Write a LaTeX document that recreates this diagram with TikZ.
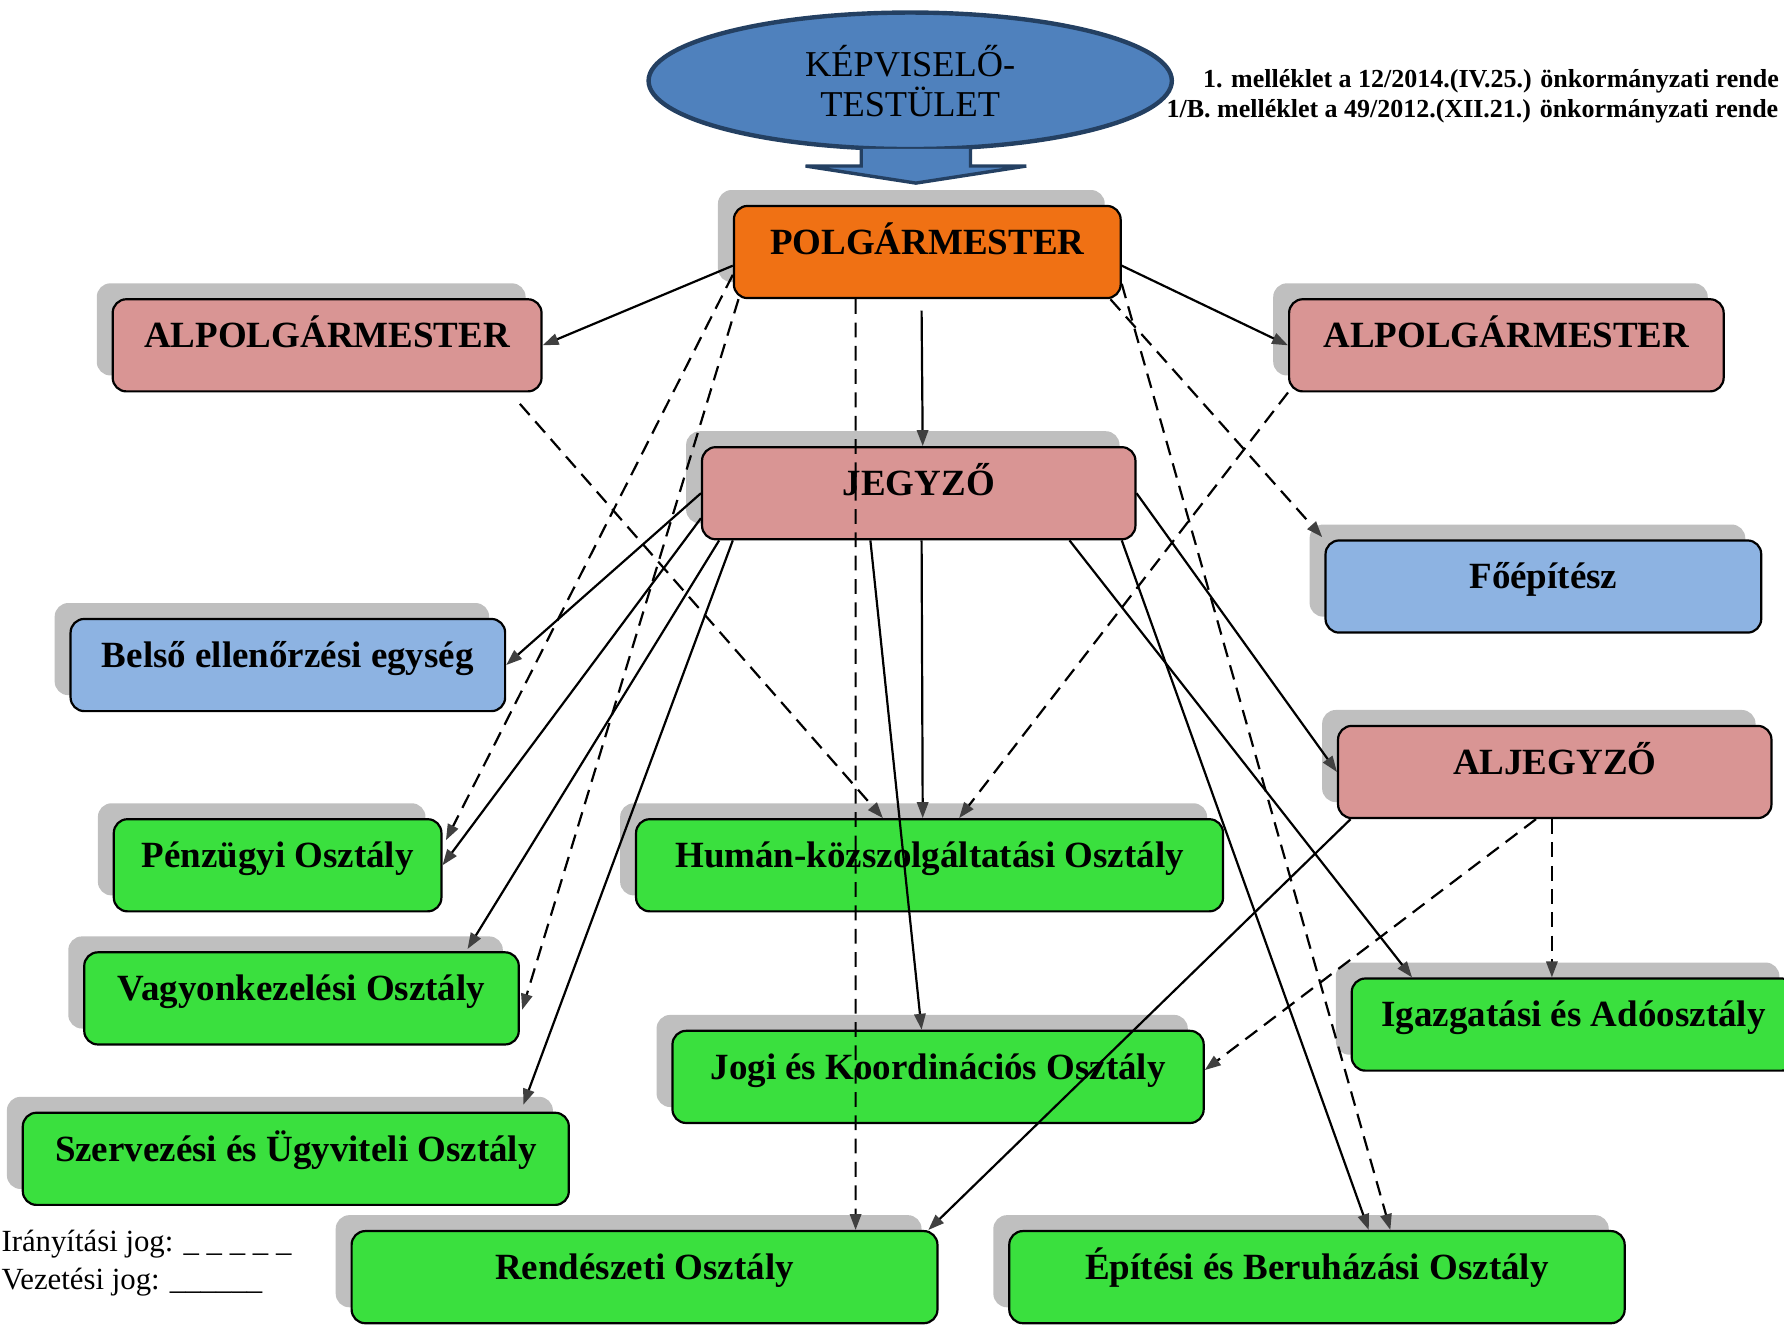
\documentclass[tikz,border=0pt]{standalone}
\usepackage{fontspec}
\setmainfont{Liberation Serif}
\usetikzlibrary{calc,shapes.geometric,shadows,arrows.meta}

\definecolor{ktblue}{RGB}{79,129,189}
\definecolor{ktdark}{RGB}{36,64,98}
\definecolor{polgorange}{RGB}{240,113,20}
\definecolor{vezpink}{RGB}{217,149,148}
\definecolor{belsoblue}{RGB}{141,179,226}
\definecolor{osztgreen}{RGB}{58,224,62}
\definecolor{tipgray}{RGB}{64,64,64}

\tikzset{
	box/.style={draw=black, line width=1.1pt, rounded corners=0.24cm, inner sep=0pt,
		minimum height=1.62cm, text height=0.44cm, text depth=0.36cm,
		font=\fontsize{18.5}{22}\selectfont\bfseries,
		drop shadow={shadow xshift=-0.28cm, shadow yshift=0.28cm, fill=black!25, opacity=1}},
	lead/.style={line width=1.1pt, -{Triangle[length=0.28cm, width=0.2cm, color=tipgray]}},
	irany/.style={lead, dash pattern=on 0.26cm off 0.15cm},
	note/.style={anchor=base west, inner sep=0pt},
}

\begin{document}
\begin{tikzpicture}[x=0.02cm, y=-0.02cm]
		%%%%% START %%%%%
		\useasboundingbox (0,0) rectangle (1568,1164);
		
		\node[note, font=\fontsize{13}{15}\selectfont\bfseries] (mell1) at (1057,77) {1. melléklet a 12/2014.(IV.25.) önkormányzati rende};
		\node[note, font=\fontsize{13}{15}\selectfont\bfseries] (mell2) at (1025,103) {1/B. melléklet a 49/2012.(XII.21.) önkormányzati rende};
		
		\node[ellipse, draw=ktdark, fill=ktblue, line width=2.2pt, minimum width=9.2cm, minimum height=2.4cm,
			align=center, font=\fontsize{18.2}{19.9}\selectfont] (kt) at (800,71) {KÉPVISELŐ-\\TESTÜLET};
		\draw[fill=ktblue, draw=ktdark, line width=1.7pt, line join=miter] ($(kt.south)+(-43,-2)$) -- ++(0,15) -- ++(-49,0)
			-- ($(kt.south)+(5,28)$) -- ($(kt.south)+(102,13)$) -- ++(-49,0) -- ++(0,-15);
		
		\node[box, fill=polgorange, minimum width=6.8cm] (polg) at (815,221.5) {POLGÁRMESTER};
		\node[box, fill=vezpink, minimum width=7.54cm] (alpolgL) at (287.5,303.5) {ALPOLGÁRMESTER};
		\node[box, fill=vezpink, minimum width=7.64cm] (alpolgR) at (1324,303.5) {ALPOLGÁRMESTER};
		\node[box, fill=vezpink, minimum width=7.62cm] (jegyzo) at (807.5,433.5) {JEGYZŐ};
		\node[box, fill=belsoblue, minimum width=7.66cm] (foep) at (1356.5,515.5) {Főépítész};
		\node[box, fill=belsoblue, minimum width=7.64cm] (belso) at (253,584.5) {Belső ellenőrzési egység};
		\node[box, fill=vezpink, minimum width=7.62cm] (aljegyzo) at (1366.5,678.5) {ALJEGYZŐ};
		
		\node[box, fill=osztgreen, minimum width=5.76cm] (penzugy) at (244,760.5) {Pénzügyi Osztály};
		\node[box, fill=osztgreen, minimum width=10.32cm] (human) at (817,760.5) {Humán-közszolgáltatási Osztály};
		\node[box, fill=osztgreen, minimum width=7.64cm] (vagyon) at (265,877.5) {Vagyonkezelési Osztály};
		\node[box, fill=osztgreen, minimum width=7.8cm] (igazg) at (1383,900.5) {Igazgatási és Adóosztály};
		\node[box, fill=osztgreen, minimum width=9.34cm] (jogi) at (824.5,946.5) {Jogi és Koordinációs Osztály};
		\node[box, fill=osztgreen, minimum width=9.6cm] (szerv) at (260,1018.5) {Szervezési és Ügyviteli Osztály};
		\node[box, fill=osztgreen, minimum width=10.3cm] (rend) at (566.5,1122.5) {Rendészeti Osztály};
		\node[box, fill=osztgreen, minimum width=10.82cm] (epit) at (1157.5,1122.5) {Építési és Beruházási Osztály};
		
		% vezetesi jog
		\draw[lead] ($(polg.west)+(0,12)$) -- (alpolgL.east);
		\draw[lead] ($(polg.east)+(0,12)$) -- (alpolgR.west);
		\draw[lead] ($(polg.south)+(-5,10)$) -- ($(jegyzo.north)+(3.5,0)$);
		\draw[lead] (jegyzo.west) -- (belso.east);
		\draw[lead] ($(jegyzo.west)+(0,22)$) -- (penzugy.east);
		\draw[lead] ($(jegyzo.south west)+(16,0)$) -- ($(vagyon.north east)+(-46,-2)$);
		\draw[lead] ($(jegyzo.south west)+(28,0)$) -- ($(szerv.north east)+(-41,-6)$);
		\draw[lead] ($(jegyzo.south)+(2.5,0)$) -- ($(human.north)+(-6,0)$);
		\draw[lead] ($(jegyzo.south)+(-42.5,0)$) -- ($(jogi.north)+(-14.5,0)$);
		\draw[lead] (jegyzo.east) -- (aljegyzo.west);
		\draw[lead] ($(jegyzo.south)+(132.5,0)$) -- ($(igazg.north west)+(54,0)$);
		\draw[lead] ($(jegyzo.south east)+(-13,0)$) -- ($(epit.north)+(45.5,0)$);
		\draw[lead] ($(aljegyzo.south west)+(12,0)$) -- ($(rend.north east)+(-9,0)$);
		
		% iranyitasi jog
		\draw[irany] ($(polg.south)+(-63,0)$) -- ($(rend.north)+(185.5,0)$);
		\draw[irany] ($(polg.west)+(0,20)$) -- ($(penzugy.east)+(3,-22)$);
		\draw[irany] ($(polg.south west)+(5,0)$) -- ($(vagyon.east)+(2,10)$);
		\draw[irany] ($(polg.south east)+(-10,0)$) -- ($(foep.north west)+(-2,-2)$);
		\draw[irany] ($(polg.east)+(0,28)$) -- ($(epit.north)+(64.5,0)$);
		\draw[irany] ($(alpolgL.south east)+(-20,10)$) -- ($(human.north)+(-41,0)$);
		\draw[irany] (alpolgR.south west) -- ($(human.north)+(26,0)$);
		\draw[irany] ($(aljegyzo.south)+(-16.5,0)$) -- ($(jogi.east)+(0,-6)$);
		\draw[irany] ($(aljegyzo.south)+(-2.5,0)$) -- ($(igazg.north)+(-19,0)$);
		
		\node[note, font=\fontsize{15.4}{18}\selectfont] (iranyjog) at (1,1100) {Irányítási jog: \_ \_ \_ \_ \_};
		\node[note, font=\fontsize{15.4}{18}\selectfont] (vezjog) at (1,1133) {Vezetési jog: \_\_\_\_\_\_};
		%%%%% END %%%%%
\end{tikzpicture}
\end{document}
